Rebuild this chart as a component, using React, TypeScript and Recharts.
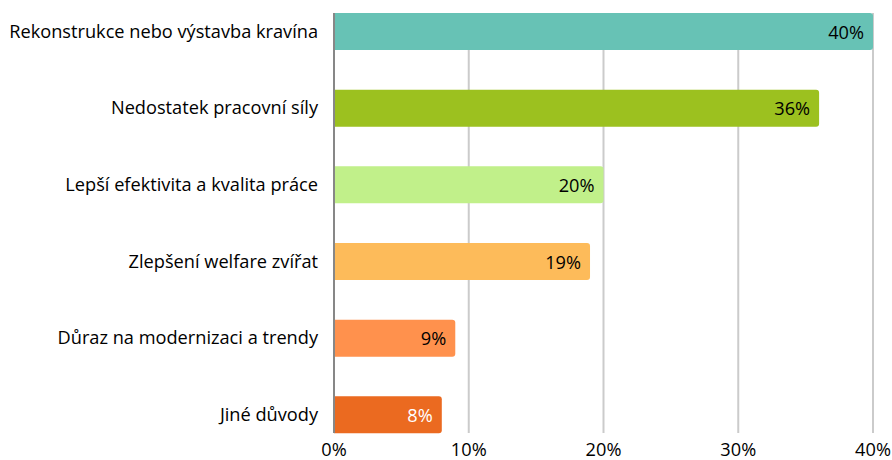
import React from "react";
import { BarChart, Bar, XAxis, YAxis, CartesianGrid, Cell, LabelList } from "recharts";

const categories = [
  "Rekonstrukce nebo výstavba kravína",
  "Nedostatek pracovní síly",
  "Lepší efektivita a kvalita práce",
  "Zlepšení welfare zvířat",
  "Důraz na modernizaci a trendy",
  "Jiné důvody",
];
const values = [40, 36, 20, 19, 9, 8];
const colors = ["#67C2B5", "#9CC11F", "#C1F08A", "#FDBB5A", "#FF914D", "#EB6A20"];
const labelColors = ["#000000", "#000000", "#000000", "#000000", "#000000", "#FFFFFF"];
const xTicks = [0, 10, 20, 30, 40];

const data = categories.map((name, i) => ({ name, value: values[i] }));

const FONT = "'Open Sans', sans-serif";
const FS = 18.2;

const renderLabel = (props: any) => {
  const { x, y, width, height, value, index } = props;
  return (
    <text
      x={x + width - 9}
      y={y + height / 2}
      textAnchor="end"
      dominantBaseline="central"
      fontSize={FS}
      fontFamily={FONT}
      fill={labelColors[index]}
    >
      {value}%
    </text>
  );
};

export default function App() {
  return (
    <div style={{ position: "absolute", left: 0, top: 0, width: 892, height: 460, background: "#fff" }}>
      <BarChart
        width={892}
        height={460}
        data={data}
        layout="vertical"
        margin={{ top: 13, right: 19, bottom: 0, left: 0 }}
      >
        <CartesianGrid horizontal={false} stroke="#CBCBCB" strokeWidth={2} />
        <XAxis
          type="number"
          domain={[0, 40]}
          ticks={xTicks}
          tickFormatter={(v: number) => `${v}%`}
          axisLine={false}
          tickLine={false}
          height={27}
          tickMargin={4}
          tick={{ fontSize: FS, fill: "#000", fontFamily: FONT }}
        />
        <YAxis
          type="category"
          dataKey="name"
          width={334}
          axisLine={{ stroke: "#878787", strokeWidth: 2 }}
          tickLine={false}
          tickMargin={10}
          padding={{ top: -20, bottom: -20 }}
          tick={{ fontSize: FS, fill: "#000", fontFamily: FONT }}
        />
        <Bar dataKey="value" barSize={37} radius={[0, 3, 3, 0]} isAnimationActive={false}>
          {data.map((d, i) => (
            <Cell key={d.name} fill={colors[i]} />
          ))}
          <LabelList dataKey="value" content={renderLabel} />
        </Bar>
      </BarChart>
    </div>
  );
}
